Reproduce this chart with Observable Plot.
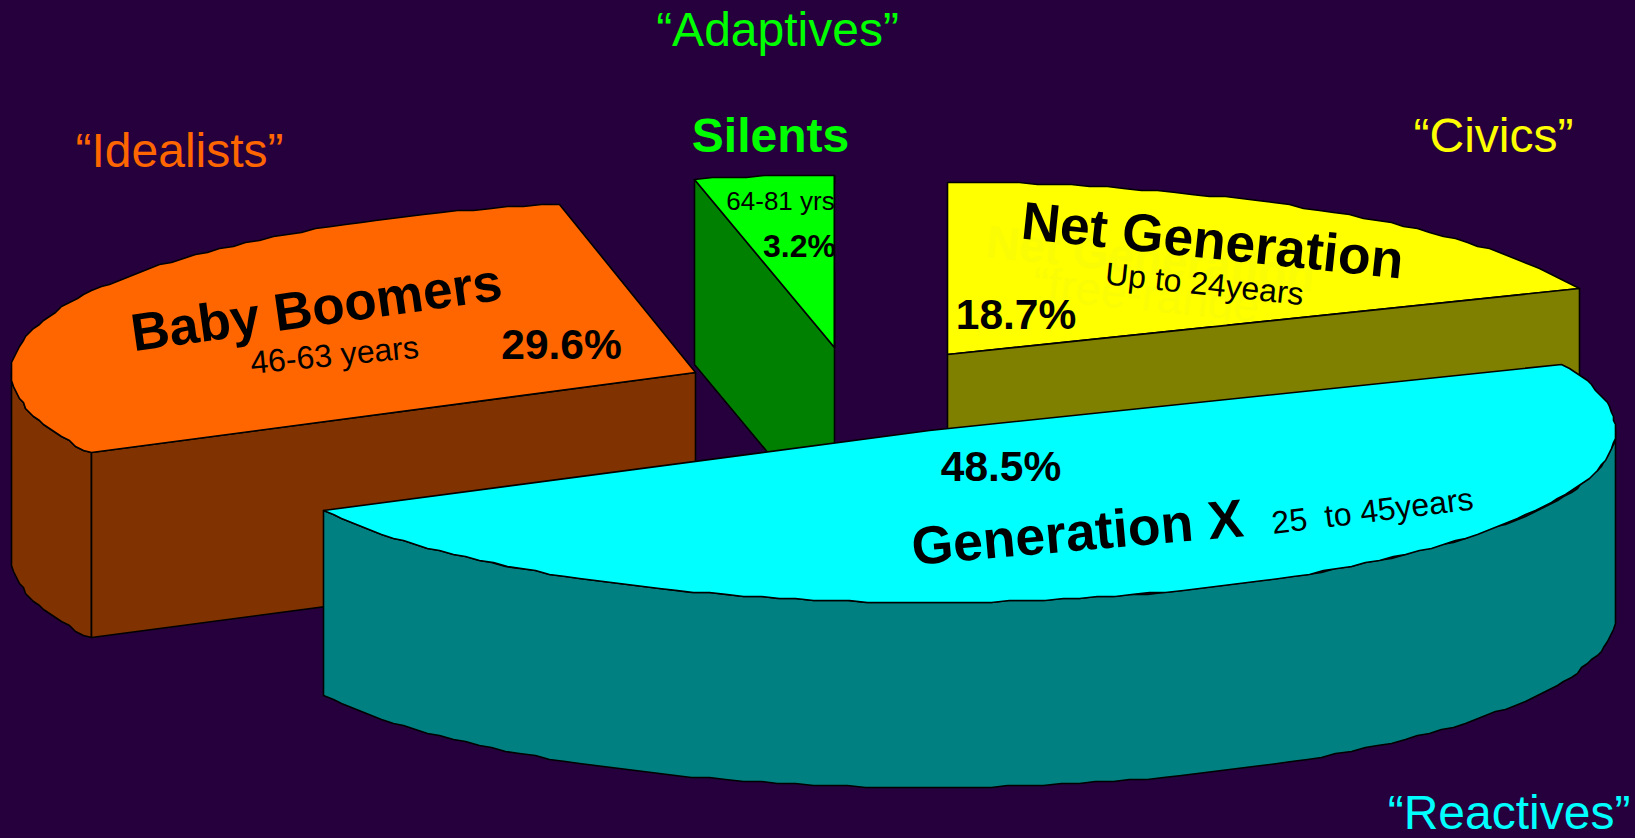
<!DOCTYPE html>
<html>
<head>
<meta charset="utf-8">
<script src="https://cdn.jsdelivr.net/npm/d3@7"></script>
<script src="https://cdn.jsdelivr.net/npm/@observablehq/plot@0.6"></script>
<style>
  html, body { margin: 0; padding: 0; background: #25003d; overflow: hidden; }
  svg { display: block; }
</style>
</head>
<body>
<div id="chart"></div>
<script>
// Workforce share by generation, in pie order, clockwise from twelve o'clock.
const generations = ["Net Generation", "Generation X", "Baby Boomers", "Silents"];
const shares = [18.7, 48.5, 29.6, 3.2];
const ageRanges = ["Up to 24years", "25  to 45years", "46-63 years", "64-81 yrs"];
const nicknames = ["“Civics”", "“Reactives”", "“Idealists”", "“Adaptives”"];

// Drawing setup: pixel scales, pie projection and per-slice placement.
const W = 1635, H = 838;
const RY = 172, DEPTH = 185;
const STEP = 1.5, GRID = 2;
const FONT = "Liberation Sans";
const BG = "#25003d";
const hubs = [[947, 354], [929, 430], [695, 372], [834, 347]];
const radiiX = [684, 686, 684, 702];
const topColors = ["#ffff00", "#00ffff", "#ff6600", "#00ff00"];
const wallColors = ["#808000", "#008080", "#803300", "#008000"];

// Cumulative start and end angle of each slice, in degrees from the +x axis.
let running = -90;
const slices = shares.map((s, i) => {
  const a0 = running, a1 = (running += s * 3.6);
  return {name: generations[i], a0, a1, hub: hubs[i], rx: radiiX[i], top: topColors[i], wall: wallColors[i]};
});

const rim = (s, deg, drop = 0) => {
  const r = deg * Math.PI / 180;
  const snap = v => Math.round(v / GRID) * GRID;
  return {x: s.hub[0] + snap(s.rx * Math.cos(r)), y: s.hub[1] + snap(RY * Math.sin(r)) + drop};
};
const arc = (s, a0, a1, drop = 0) => {
  const out = [];
  const n = Math.max(1, Math.ceil((a1 - a0) / STEP));
  for (let i = 0; i <= n; i++) out.push(rim(s, a0 + (a1 - a0) * i / n, drop));
  return out;
};
const hubPoint = (s, drop = 0) => ({x: s.hub[0], y: s.hub[1] + drop});

const face = (points, fill) => Plot.line(points, {
  x: "x", y: "y", curve: "linear-closed",
  fill, stroke: "black", strokeWidth: 1.6, strokeLinejoin: "round"
});

// Top of a slice: hub, then along the rim.
const topFace = s => face([hubPoint(s), ...arc(s, s.a0, s.a1)], s.top);
// Outer wall: the front part of the rim extruded downward.
const rimWall = (s, a0, a1) => face(
  [...arc(s, a0, a1), ...arc(s, a0, a1, DEPTH).reverse()], s.wall);
// Cut wall: the straight radius at angle a extruded downward.
const cutWall = (s, a) => face(
  [hubPoint(s), rim(s, a), rim(s, a, DEPTH), hubPoint(s, DEPTH)], s.wall);

const [net, genX, boomers, silents] = slices;

const pct = i => `${shares[i].toFixed(1)}%`;
const label = (text, x, y, fontSize, fill, fontWeight, rotate = 0) =>
  Plot.text([text], {
    x: () => x, y: () => y, text: d => d, fontSize, fill, fontWeight, rotate,
    fontFamily: FONT, textAnchor: "middle", lineAnchor: "middle"
  });

const plot = Plot.plot({
  width: W, height: H,
  margin: 0,
  style: {background: BG},
  x: {domain: [0, W], range: [0, W], axis: null},
  y: {domain: [0, H], range: [0, H], axis: null},
  marks: [
    // Silents, furthest back, with its labels trimmed at the slice edge
    cutWall(silents, silents.a0),
    topFace(silents),
    label(ageRanges[3], 780, 201, 26, "black", "normal"),
    label(pct(3), 799, 246, 32, "black", "bold"),
    Plot.rect([0], {x1: () => 835, x2: () => 870, y1: () => 185, y2: () => 270, fill: BG}),
    Plot.ruleX([834], {y1: () => 176, y2: () => 347, stroke: "black", strokeWidth: 1.6}),

    // Net Generation: the faint earlier caption sits under the wall and current text
    topFace(net),
    label(generations[0], 1150, 259, 46, "#fafc05", "bold", 6),
    label("“free-range”", 1153, 296, 46, "#fafc05", "normal", 6),
    cutWall(net, net.a1),
    label(generations[0], 1212, 241, 53.5, "black", "bold", 6),
    label(ageRanges[0], 1204, 284, 32, "black", "normal", 6),
    label(pct(0), 1015.5, 315, 42.5, "black", "bold"),

    // Baby Boomers
    rimWall(boomers, boomers.a0, 180),
    cutWall(boomers, boomers.a0),
    topFace(boomers),
    label(generations[2], 316, 308, 53, "black", "bold", -8),
    label(ageRanges[2], 334, 355, 32, "black", "normal", -5.5),
    label(pct(2), 561, 345, 42.5, "black", "bold"),

    // Generation X, nearest the viewer
    rimWall(genX, 0, genX.a1),
    topFace(genX),
    label(pct(1), 1000.5, 467, 42.5, "black", "bold"),
    label(generations[1], 1077, 533, 53.5, "black", "bold", -5),
    label(ageRanges[1], 1372, 511, 32, "black", "normal", -7),

    // Titles above and around the pie
    label(generations[3], 770, 136, 48, topColors[3], "bold"),
    label(nicknames[3], 777, 30, 48, topColors[3], "normal"),
    label(nicknames[2], 179, 151, 48, topColors[2], "normal"),
    label(nicknames[0], 1493, 136, 48, topColors[0], "normal"),
    label(nicknames[1], 1508.5, 813, 48, topColors[1], "normal")
  ]
});
document.getElementById("chart").appendChild(plot);
</script>
</body>
</html>
